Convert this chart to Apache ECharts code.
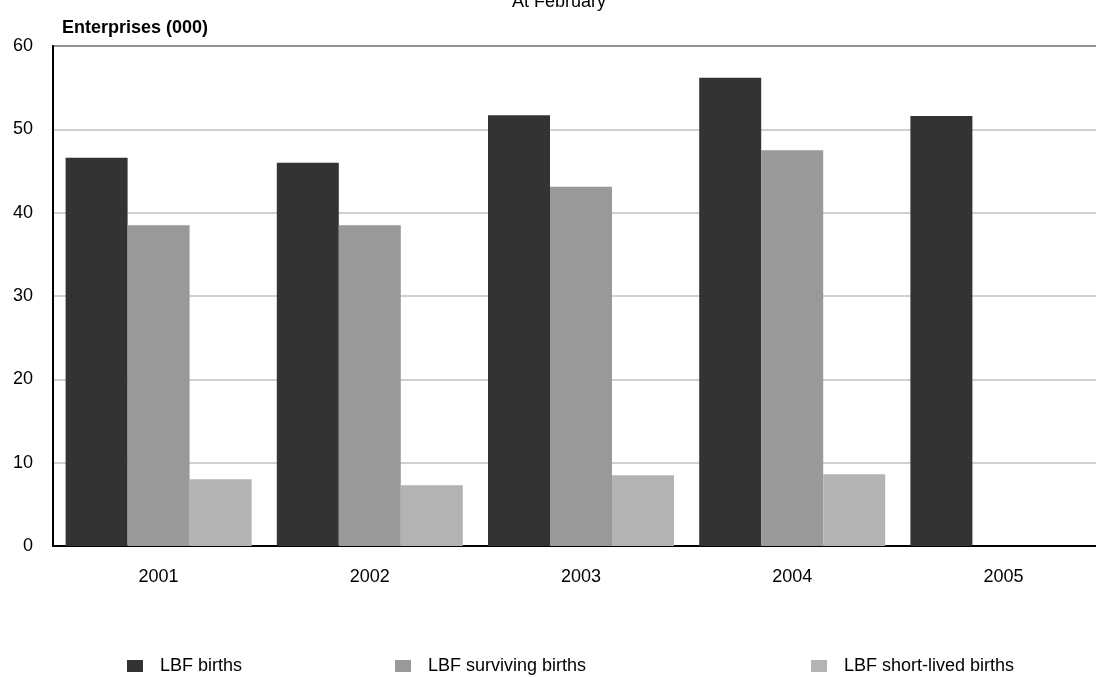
<!DOCTYPE html>
<html>
<head>
<meta charset="utf-8">
<script src="https://cdn.jsdelivr.net/npm/echarts@6/dist/echarts.min.js"></script>
<style>
  html, body { margin: 0; padding: 0; background: #fff; }
  #chart { width: 1096px; height: 677px; }
</style>
</head>
<body>
<div id="chart"></div>
<script>
// Enterprise births by year (thousands)
const years = ['2001', '2002', '2003', '2004', '2005'];
const lbfBirths = [46.6, 46.0, 51.7, 56.2, 51.6];
const lbfSurvivingBirths = [38.5, 38.5, 43.1, 47.5, null];
const lbfShortLivedBirths = [8.0, 7.3, 8.5, 8.6, null];
const seriesNames = ['LBF births', 'LBF surviving births', 'LBF short-lived births'];
const seriesColors = ['#333333', '#999999', '#b3b3b3'];

const font = 'Liberation Sans, Arial, sans-serif';
const chart = echarts.init(document.getElementById('chart'));

function legendAt(name, left) {
  return {
    data: [name],
    left: left,
    top: 652,
    icon: 'rect',
    itemWidth: 16,
    itemHeight: 12,
    selectedMode: false,
    textStyle: { fontFamily: font, fontSize: 18, color: '#000', padding: [0, 0, 0, 12] }
  };
}

chart.setOption({
  animation: false,
  backgroundColor: '#fff',
  title: {
    text: 'At February',
    left: 507,
    top: -12,
    textStyle: { fontFamily: font, fontSize: 18, fontWeight: 'normal', color: '#000' }
  },
  legend: [
    legendAt(seriesNames[0], 122),
    legendAt(seriesNames[1], 390),
    legendAt(seriesNames[2], 806)
  ],
  grid: {
    left: 53,
    top: 46,
    width: 1056,
    height: 500,
    show: true,
    borderColor: '#000',
    borderWidth: 2,
    containLabel: false,
    outerBoundsMode: 'none'
  },
  xAxis: {
    type: 'category',
    data: years,
    axisLine: { show: true, lineStyle: { color: '#000', width: 2 } },
    axisTick: { show: false },
    axisLabel: { fontFamily: font, fontSize: 18, color: '#000', margin: 22 }
  },
  yAxis: {
    type: 'value',
    min: 0,
    max: 60,
    interval: 10,
    name: 'Enterprises (000)',
    nameLocation: 'end',
    nameGap: 9,
    nameTextStyle: {
      fontFamily: font, fontSize: 18, fontWeight: 'bold', color: '#000',
      align: 'left', padding: [0, 0, 0, 9]
    },
    axisLine: { show: true, lineStyle: { color: '#000', width: 2 } },
    axisTick: { show: false },
    axisLabel: { fontFamily: font, fontSize: 18, color: '#000', margin: 20 },
    splitLine: { show: true, lineStyle: { color: '#c0c0c0', width: 1.5 } }
  },
  series: [
    { name: seriesNames[0], type: 'bar', data: lbfBirths, barWidth: 62, barGap: '0%', itemStyle: { color: seriesColors[0] } },
    { name: seriesNames[1], type: 'bar', data: lbfSurvivingBirths, barWidth: 62, barGap: '0%', itemStyle: { color: seriesColors[1] } },
    { name: seriesNames[2], type: 'bar', data: lbfShortLivedBirths, barWidth: 62, barGap: '0%', itemStyle: { color: seriesColors[2] } }
  ]
});
</script>
</body>
</html>
